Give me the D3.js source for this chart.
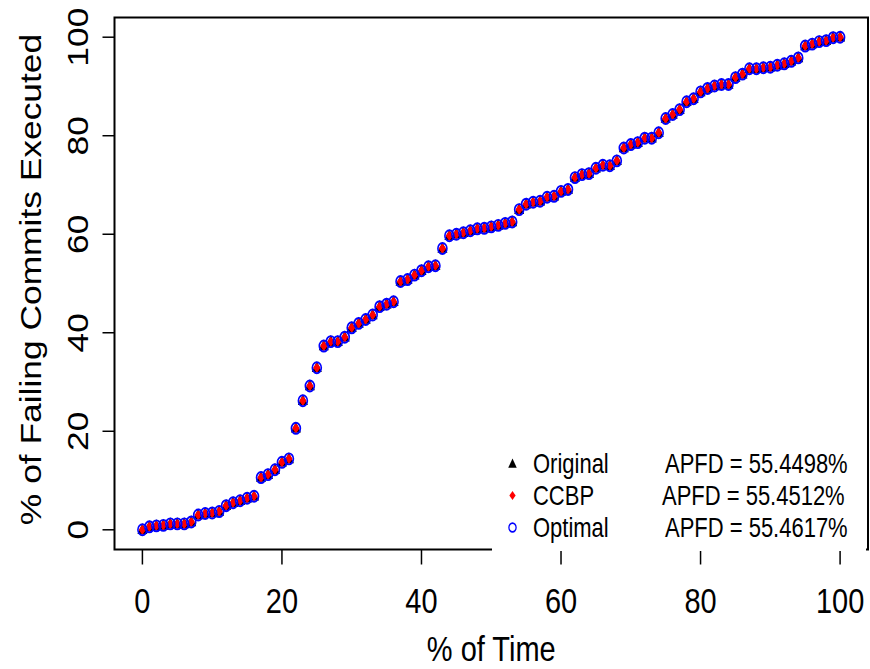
<!DOCTYPE html>
<html>
<head>
<meta charset="utf-8">
<script src="https://d3js.org/d3.v7.min.js"></script>
<style>
	body { margin: 0; background: #fff; }
	svg { display: block; }
	text { font-family: 'Liberation Sans', Arial, Helvetica, sans-serif; fill: #000; }
</style>
</head>
<body>
<div id="chart"></div>
<script>
// Data
const timePct = [
	0, 1, 2, 3, 4, 5, 6, 7, 8, 9, 10, 11, 12, 13, 14, 15, 16, 17, 18, 19,
	20, 21, 22, 23, 24, 25, 26, 27, 28, 29, 30, 31, 32, 33, 34, 35, 36, 37, 38, 39,
	40, 41, 42, 43, 44, 45, 46, 47, 48, 49, 50, 51, 52, 53, 54, 55, 56, 57, 58, 59,
	60, 61, 62, 63, 64, 65, 66, 67, 68, 69, 70, 71, 72, 73, 74, 75, 76, 77, 78, 79,
	80, 81, 82, 83, 84, 85, 86, 87, 88, 89, 90, 91, 92, 93, 94, 95, 96, 97, 98, 99, 100
];
const originalFailPct = [
	0, 0.6, 0.8, 0.9, 1.2, 1.2, 1.2, 1.6, 3.0, 3.3, 3.4, 3.7, 4.9, 5.5, 5.9, 6.4, 6.8, 10.6, 11.2, 12.2,
	13.7, 14.4, 20.6, 26.2, 29.2, 32.9, 37.3, 38.2, 38.2, 39.1, 41.0, 41.9, 42.7, 43.6, 45.3, 45.8, 46.3, 50.4, 50.8, 51.7,
	52.6, 53.4, 53.6, 57.1, 59.7, 60.0, 60.3, 60.7, 61.1, 61.2, 61.5, 61.8, 62.2, 62.5, 65.0, 66.1, 66.5, 66.7, 67.5, 67.7,
	68.7, 69.1, 71.5, 72.1, 72.3, 73.4, 74.0, 73.9, 74.9, 77.5, 78.2, 78.6, 79.5, 79.5, 80.6, 83.5, 84.3, 85.3, 86.9, 87.5,
	88.9, 89.6, 90.1, 90.4, 90.4, 91.8, 92.5, 93.6, 93.6, 93.8, 93.9, 94.3, 94.6, 95.1, 95.8, 98.2, 98.6, 99.1, 99.3, 99.9, 100
];
// The three orderings overlap completely at this resolution
const ccbpFailPct = originalFailPct.slice();
const optimalFailPct = originalFailPct.slice();

const xTicks = [0, 20, 40, 60, 80, 100];
const yTicks = [0, 20, 40, 60, 80, 100];

const legendNames = ['Original', 'CCBP', 'Optimal'];
const legendApfd = ['APFD = 55.4498%', 'APFD = 55.4512%', 'APFD = 55.4617%'];

// Layout
const width = 870, height = 669;
const plot = { left: 114.5, right: 868, top: 17.5, bottom: 549.5 };
const stretch = 1.22; // the original image is stretched vertically

const x = d3.scaleLinear().domain([-4, 104]).range([plot.left, plot.right]);
const y = d3.scaleLinear().domain([-4, 104]).range([plot.bottom, plot.top]);

const svg = d3.select('#chart').append('svg')
	.attr('width', width)
	.attr('height', height);

// Marker shapes (drawn unstretched, then scaled in y)
const trianglePath = (s) => `M0,${-5.4 * s}L${5 * s},${3.5 * s}L${-5 * s},${3.5 * s}Z`;
const diamondPath = (s) => `M0,${-4.3 * s}L${3.7 * s},0L0,${4.3 * s}L${-3.7 * s},0Z`;

const series = [
	{ name: 'Original', values: originalFailPct },
	{ name: 'CCBP', values: ccbpFailPct },
	{ name: 'Optimal', values: optimalFailPct }
];

const pointsG = svg.append('g');

pointsG.selectAll('path.orig')
	.data(timePct.map((t, i) => [t, series[0].values[i]]))
.join('path')
	.attr('class', 'orig')
	.attr('transform', d => `translate(${x(d[0])},${y(d[1])}) scale(1,${stretch})`)
	.attr('d', trianglePath(1))
	.attr('fill', '#000');

pointsG.selectAll('path.ccbp')
	.data(timePct.map((t, i) => [t, series[1].values[i]]))
.join('path')
	.attr('class', 'ccbp')
	.attr('transform', d => `translate(${x(d[0])},${y(d[1])}) scale(1,${stretch})`)
	.attr('d', diamondPath(1))
	.attr('fill', '#ff0000');

pointsG.selectAll('circle.opt')
	.data(timePct.map((t, i) => [t, series[2].values[i]]))
.join('circle')
	.attr('class', 'opt')
	.attr('transform', d => `translate(${x(d[0])},${y(d[1])}) scale(1,${stretch})`)
	.attr('r', 4.5)
	.attr('fill', 'none')
	.attr('stroke', '#0000ff')
	.attr('stroke-width', 1.6);

// Axes ticks
svg.append('g').selectAll('line')
	.data(xTicks)
.join('line')
	.attr('x1', d => x(d)).attr('x2', d => x(d))
	.attr('y1', plot.bottom).attr('y2', plot.bottom + 15)
	.attr('stroke', '#000').attr('stroke-width', 1.5);

svg.append('g').selectAll('line')
	.data(yTicks)
.join('line')
	.attr('x1', plot.left - 12).attr('x2', plot.left)
	.attr('y1', d => y(d)).attr('y2', d => y(d))
	.attr('stroke', '#000').attr('stroke-width', 1.5);

svg.append('g').selectAll('text')
	.data(xTicks)
.join('text')
	.attr('transform', d => `translate(${x(d)},613) scale(1,${stretch})`)
	.attr('text-anchor', 'middle')
	.style('font-size', '29px')
	.text(d => d);

svg.append('g').selectAll('text')
	.data(yTicks)
.join('text')
	.attr('transform', d => `translate(88,${y(d)}) scale(1,${stretch}) rotate(-90)`)
	.attr('text-anchor', 'middle')
	.style('font-size', '29px')
	.text(d => d);

// Axis titles
svg.append('text')
	.attr('transform', `translate(${(plot.left + plot.right) / 2},661) scale(1,${stretch})`)
	.attr('text-anchor', 'middle')
	.style('font-size', '29px')
	.text('% of Time');

svg.append('text')
	.attr('transform', `translate(41,${(plot.top + plot.bottom) / 2 - 4}) scale(1,${stretch}) rotate(-90)`)
	.attr('text-anchor', 'middle')
	.style('font-size', '29px')
	.text('% of Failing Commits Executed');

// Plot frame
svg.append('rect')
	.attr('x', plot.left).attr('y', plot.top)
	.attr('width', plot.right - plot.left)
	.attr('height', plot.bottom - plot.top)
	.attr('fill', 'none')
	.attr('stroke', '#000')
	.attr('stroke-width', 2);

// Legend, white box covering the frame's bottom edge
const legend = svg.append('g');
legend.append('rect')
	.attr('x', 492).attr('y', 440)
	.attr('width', 374).attr('height', 111)
	.attr('fill', '#fff');

const rowY = [464, 495.5, 527.5];
const symX = 512.5;

legend.append('path')
	.attr('transform', `translate(${symX},${rowY[0]}) scale(1,${stretch})`)
	.attr('d', trianglePath(0.85))
	.attr('fill', '#000');
legend.append('path')
	.attr('transform', `translate(${symX},${rowY[1]}) scale(1,${stretch})`)
	.attr('d', diamondPath(0.85))
	.attr('fill', '#ff0000');
legend.append('circle')
	.attr('transform', `translate(${symX},${rowY[2]}) scale(1,${stretch})`)
	.attr('r', 3.6)
	.attr('fill', 'none')
	.attr('stroke', '#0000ff')
	.attr('stroke-width', 1.3);

legend.selectAll('text.name')
	.data(legendNames)
.join('text')
	.attr('class', 'name')
	.attr('transform', (d, i) => `translate(533,${rowY[i] + 9}) scale(1,${stretch})`)
	.style('font-size', '22px')
	.text(d => d);

const apfdX = [665, 662, 665];
legend.selectAll('text.apfd')
	.data(legendApfd)
.join('text')
	.attr('class', 'apfd')
	.attr('transform', (d, i) => `translate(${apfdX[i]},${rowY[i] + 9}) scale(1,${stretch})`)
	.style('font-size', '22px')
	.text(d => d);
</script>
</body>
</html>
